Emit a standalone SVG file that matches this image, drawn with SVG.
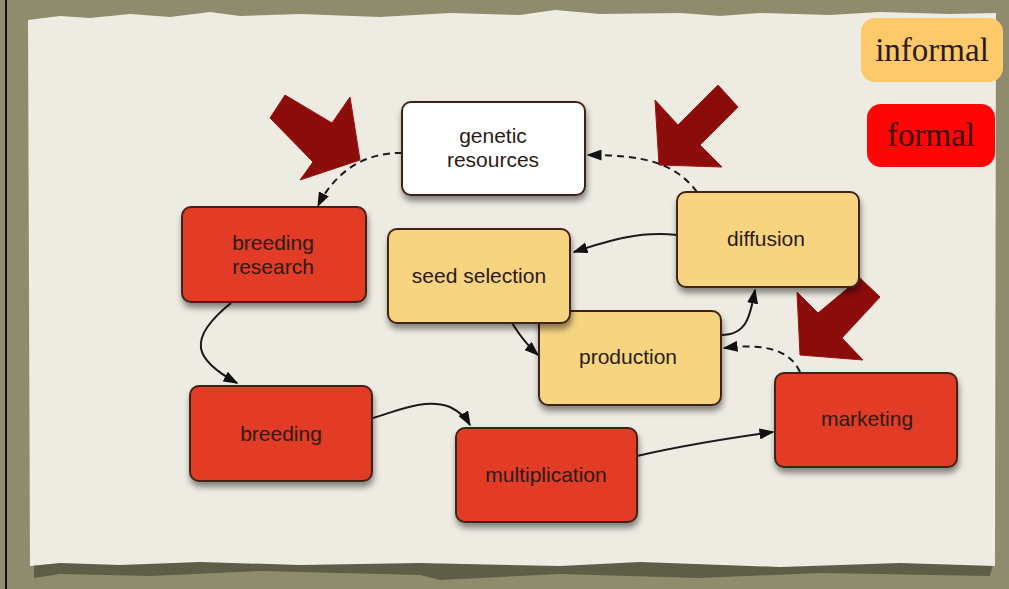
<svg xmlns="http://www.w3.org/2000/svg" width="1009" height="589" viewBox="0 0 1009 589">
<defs>
<style>
.node rect{stroke:#3f2418;stroke-width:2;filter:url(#sh)}
.red rect{fill:#e23b26}
.yel rect{fill:#f6d480}
.wht rect{fill:#ffffff}
.node text{font-family:"Liberation Sans",Arial,sans-serif;font-size:21px;fill:#2b1b14;text-anchor:middle}
.leg text{font-family:"Liberation Serif","Times New Roman",serif;font-size:33px;text-anchor:middle}
.c{fill:none;stroke:#1a1a1a;stroke-width:2;marker-end:url(#ah)}
.d{stroke-dasharray:7,5}
.big{fill:#8c0b0b;stroke:#a01010;stroke-width:1}
</style>
<marker id="ah" viewBox="0 0 10 10" refX="9" refY="5" markerWidth="15" markerHeight="11" markerUnits="userSpaceOnUse" orient="auto" preserveAspectRatio="none">
<path d="M0,0 L10,5 L0,10 z" fill="#111"/>
</marker>
<filter id="sh" x="-10%" y="-10%" width="130%" height="140%">
<feDropShadow dx="1" dy="5" stdDeviation="3" flood-color="#000" flood-opacity="0.45"/>
</filter>
</defs>
<rect width="1009" height="589" fill="#8e8c6d"/>
<line x1="6" y1="0" x2="6" y2="589" stroke="#111" stroke-width="2"/>
<path d="M34,578 L60,574 L150,576 L260,571 L420,575 L440,580 L560,574 L700,578 L820,573 L990,576 L994,560 L34,560 z" fill="#5e5d47"/>
<path d="M28,20 L60,16 L90,18 L130,14 L170,17 L210,12 L240,16 L300,14 L380,17 L450,13 L520,15 L555,10 L600,14 L680,13 L720,16 L760,13 L830,15 L880,12 L950,14 L996,13 L995,566 L900,563 L780,567 L640,562 L560,566 L420,563 L300,565 L200,562 L120,565 L60,563 L30,566 z" fill="#eeece2"/>
<g id="legend-informal" class="leg">
<rect x="861" y="18" width="142" height="64" rx="14" fill="#fdc96b"/>
<text x="932" y="61" fill="#2b1b14">informal</text>
</g>
<g id="legend-formal" class="leg">
<rect x="867" y="104" width="128" height="63" rx="14" fill="#ff0505"/>
<text x="931" y="146" fill="#3a0606">formal</text>
</g>
<g id="big-arrows">
<polygon class="big" points="285,95 332,123 350,97 360,160 300,180 313,162 270,118"/>
<polygon class="big" points="655,100 678,125 718,85 738,107 700,145 722,167 659,165"/>
<polygon class="big" points="797,292 818,313 860,278 880,297 842,338 863,360 800,355"/>
</g>
<g id="connectors">
<path class="c d" d="M402,153 C362,152 333,175 318,206"/>
<path class="c d" d="M697,192 C675,163 645,155 588,155"/>
<path class="c" d="M677,235 C640,231 610,240 574,252"/>
<path class="c" d="M512,323 C520,336 528,346 538,355"/>
<path class="c" d="M721,335 C746,335 750,318 755,290"/>
<path class="c d" d="M800,372 C790,350 765,343 724,348"/>
<path class="c" d="M231,303 C185,340 195,360 237,383"/>
<path class="c" d="M373,418 C400,410 425,398 450,407 C460,412 466,418 470,425"/>
<path class="c" d="M637,456 C680,446 730,438 773,432"/>
</g>
<g id="genetic-resources" class="node wht">
<rect x="402" y="102" width="183" height="93" rx="9"/>
<text x="493" y="143">genetic</text>
<text x="493" y="167">resources</text>
</g>
<g id="breeding-research" class="node red">
<rect x="182" y="207" width="184" height="95" rx="9"/>
<text x="273" y="250">breeding</text>
<text x="273" y="274">research</text>
</g>
<g id="diffusion" class="node yel">
<rect x="677" y="192" width="182" height="95" rx="9"/>
<text x="766" y="246">diffusion</text>
</g>
<g id="production" class="node yel">
<rect x="539" y="311" width="182" height="94" rx="9"/>
<text x="628" y="364">production</text>
</g>
<g id="seed-selection" class="node yel">
<rect x="388" y="229" width="182" height="94" rx="9"/>
<text x="479" y="283">seed selection</text>
</g>
<g id="breeding" class="node red">
<rect x="190" y="386" width="182" height="95" rx="9"/>
<text x="281" y="441">breeding</text>
</g>
<g id="multiplication" class="node red">
<rect x="456" y="428" width="181" height="94" rx="9"/>
<text x="546" y="482">multiplication</text>
</g>
<g id="marketing" class="node red">
<rect x="775" y="373" width="182" height="94" rx="9"/>
<text x="867" y="426">marketing</text>
</g>
</svg>
